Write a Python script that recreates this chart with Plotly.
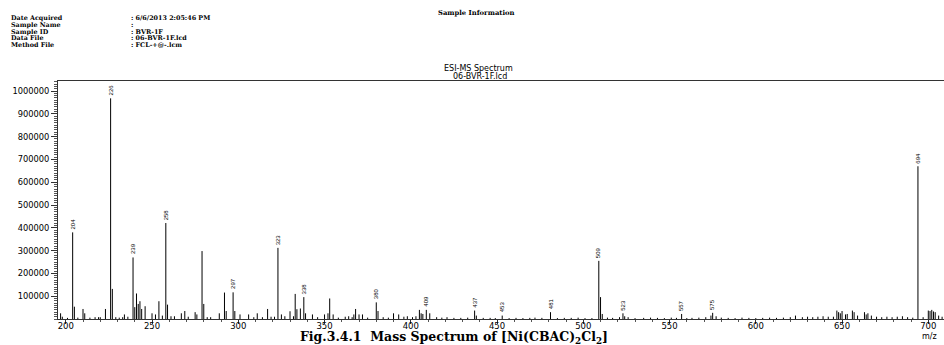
import plotly.graph_objects as go

# ---------------- data ----------------
peak_mz = [197, 198, 201, 204, 205, 207, 210, 211, 214, 217, 219, 220, 223, 226, 227,
           229, 231, 233, 234, 236, 239, 240, 241, 242, 243, 244, 246, 250, 252, 254,
           256, 258, 259, 261, 263, 267, 269, 271, 275, 276, 279, 280, 282, 284, 289,
           292, 293, 297, 298, 301, 306, 309, 311, 314, 317, 319, 321, 323, 325, 327,
           330, 332, 333, 334, 336, 338, 339, 343, 346, 350, 352, 353, 355, 358, 362,
           364, 366, 367, 368, 370, 372, 375, 380, 381, 384, 387, 390, 393, 396, 398,
           401, 403, 405, 406, 407, 409, 411, 415, 418, 421, 425, 429, 433, 437, 438,
           442, 446, 449, 453, 457, 461, 465, 469, 472, 476, 481, 485, 489, 493, 497,
           501, 505, 509, 510, 511, 514, 517, 521, 523, 524, 526, 530, 535, 539, 543,
           547, 551, 554, 557, 560, 563, 567, 571, 574, 575, 577, 580, 584, 588, 592,
           596, 600, 604, 608, 612, 616, 620, 623, 627, 630, 633, 636, 639, 642, 645,
           647, 648, 649, 650, 652, 653, 656, 657, 659, 663, 664, 665, 667, 670, 673,
           676, 679, 682, 685, 688, 691, 694, 697, 700, 701, 702, 703, 704, 706, 708]
peak_int = [25000, 10000, 5000, 380000, 54000, 6000, 44000, 25000, 6000, 8000, 8000, 8000, 44000, 968000, 132000,
            8000, 6000, 8000, 20000, 10000, 270000, 52000, 112000, 66000, 78000, 44000, 56000, 25000, 20000, 78000,
            15000, 421000, 63000, 12000, 12000, 25000, 35000, 10000, 30000, 20000, 298000, 66000, 8000, 8000, 25000,
            116000, 35000, 117000, 35000, 20000, 20000, 8000, 25000, 8000, 44000, 10000, 10000, 312000, 20000, 12000,
            34000, 12000, 110000, 43000, 46000, 96000, 25000, 20000, 8000, 20000, 25000, 90000, 20000, 6000, 10000,
            12000, 8000, 20000, 44000, 20000, 20000, 6000, 73000, 35000, 8000, 6000, 25000, 20000, 10000, 12000,
            8000, 12000, 40000, 25000, 22000, 40000, 25000, 8000, 6000, 8000, 5000, 5000, 6000, 37000, 15000,
            5000, 5000, 4000, 15000, 4000, 5000, 4000, 5000, 6000, 5000, 30000, 4000, 5000, 5000, 6000,
            4000, 4000, 255000, 96000, 22000, 6000, 5000, 8000, 25000, 12000, 8000, 4000, 5000, 6000, 5000,
            4000, 6000, 5000, 22000, 4000, 5000, 6000, 8000, 15000, 27000, 12000, 6000, 5000, 4000, 6000,
            5000, 4000, 5000, 6000, 5000, 6000, 8000, 15000, 8000, 10000, 8000, 10000, 12000, 10000, 10000,
            37000, 30000, 25000, 35000, 20000, 22000, 37000, 30000, 15000, 30000, 20000, 25000, 15000, 10000, 8000,
            10000, 8000, 10000, 12000, 8000, 6000, 670000, 8000, 37000, 35000, 40000, 33000, 30000, 15000, 10000]

label_mz = [204, 226, 239, 258, 297, 323, 338, 380, 409, 437, 453, 481, 509, 523, 557, 575, 694]

y_ticks = [100000, 200000, 300000, 400000, 500000, 600000, 700000, 800000, 900000, 1000000]
x_ticks = [200, 250, 300, 350, 400, 450, 500, 550, 600, 650, 700]

info_fields = ["Date Acquired", "Sample Name", "Sample ID", "Data File", "Method File"]
info_values = [": 6/6/2013 2:05:46 PM", ":", ": BVR-1F", ": 06-BVR-1F.lcd", ": FCL-+@-.lcm"]

header_title = "Sample Information"
plot_title = ["ESI-MS Spectrum", "06-BVR-1F.lcd"]
caption = "Fig.3.4.1\u00a0\u00a0Mass Spectrum of [Ni(CBAC)<sub>2</sub>Cl<sub>2</sub>]"

# ---------------- figure ----------------
W, H = 944, 345
L, R, T, B = 58, 0, 81, 26
PW, PH = W - L - R, H - T - B


def px(x):
    return (x - L) / PW


def py(y):
    return (H - B - y) / PH


stick_x, stick_y = [], []
for m, v in zip(peak_mz, peak_int):
    stick_x += [m, m, None]
    stick_y += [0, v, None]

fig = go.Figure()
fig.add_trace(go.Scatter(x=stick_x, y=stick_y, mode="lines",
                         line=dict(color="#000000", width=1),
                         hoverinfo="skip", showlegend=False))

intensity = dict(zip(peak_mz, peak_int))
annotations = []
for m in label_mz:
    annotations.append(dict(x=m, y=intensity[m], xref="x", yref="y", text=str(m),
                            textangle=-90, showarrow=False, xanchor="center",
                            yanchor="bottom", yshift=1,
                            font=dict(family="Liberation Sans Narrow, Liberation Sans", size=6, color="#000")))

serif_b = dict(family="DejaVu Serif", size=6.4, color="#000")
line_y = [18.3, 24.9, 31.5, 38.1, 44.7]
for f, v, yy in zip(info_fields, info_values, line_y):
    annotations.append(dict(x=px(9), y=py(yy), xref="paper", yref="paper", text="<b>%s</b>" % f,
                            showarrow=False, xanchor="left", yanchor="middle", font=serif_b))
    annotations.append(dict(x=px(129), y=py(yy), xref="paper", yref="paper", text="<b>%s</b>" % v,
                            showarrow=False, xanchor="left", yanchor="middle", font=serif_b))

annotations.append(dict(x=px(476), y=py(13), xref="paper", yref="paper",
                        text="<b>%s</b>" % header_title, showarrow=False,
                        xanchor="center", yanchor="middle",
                        font=dict(family="DejaVu Serif", size=6.8, color="#000")))

sans = dict(family="DejaVu Sans", size=8, color="#000")
annotations.append(dict(x=px(478), y=py(68.7), xref="paper", yref="paper", text=plot_title[0],
                        showarrow=False, xanchor="center", yanchor="middle", font=sans))
annotations.append(dict(x=px(480), y=py(76), xref="paper", yref="paper", text=plot_title[1],
                        showarrow=False, xanchor="center", yanchor="middle", font=sans))

annotations.append(dict(x=px(929), y=py(336), xref="paper", yref="paper", text="m/z",
                        showarrow=False, xanchor="center", yanchor="middle", font=sans))

annotations.append(dict(x=px(454), y=py(337.5), xref="paper", yref="paper", text="<b>%s</b>" % caption,
                        showarrow=False, xanchor="center", yanchor="middle",
                        font=dict(family="DejaVu Serif", size=12.5, color="#000")))

fig.update_layout(
    width=W, height=H,
    margin=dict(l=L, r=R, t=T, b=B, pad=0, autoexpand=False),
    paper_bgcolor="white", plot_bgcolor="white",
    showlegend=False,
    annotations=annotations,
    xaxis=dict(range=[195.5, 709.1], showgrid=False, zeroline=False, automargin=False,
               showline=True, linecolor="#333", linewidth=1, mirror=True,
               ticks="outside", ticklen=4, tickcolor="#333",
               tickvals=x_ticks, ticktext=[str(t) for t in x_ticks],
               tickfont=dict(family="DejaVu Sans", size=8.5, color="#000"),
               ticklabelstandoff=-5,
               minor=dict(ticks="outside", ticklen=2, dtick=10, tickcolor="#555")),
    yaxis=dict(range=[0, 1044000], showgrid=False, zeroline=False, automargin=False,
               showline=True, linecolor="#333", linewidth=1,
               ticks="outside", ticklen=6, tickcolor="#333",
               tickvals=y_ticks, ticktext=[str(t) for t in y_ticks],
               tickfont=dict(family="DejaVu Sans", size=8.3, color="#000"),
               minor=dict(ticks="outside", ticklen=3, dtick=10000, tickcolor="#555")),
)

fig.write_html("out.html", config={"displayModeBar": False},
               post_script="document.body.style.margin='0';document.body.style.overflow='hidden';")
